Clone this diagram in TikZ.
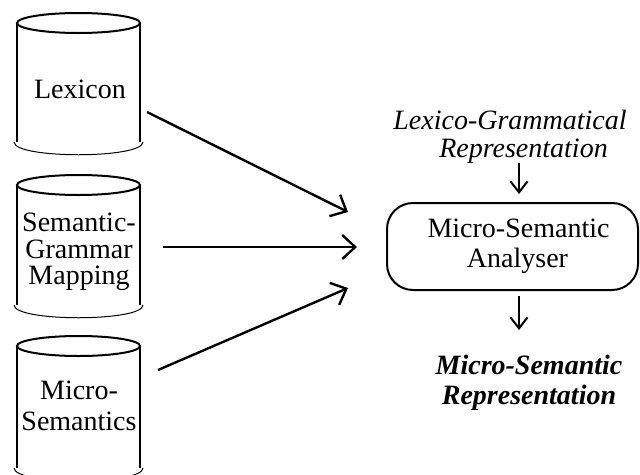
\documentclass[tikz,border=0pt]{standalone}
\usepackage{fontspec}
\setmainfont{Liberation Serif}
\usetikzlibrary{arrows.meta}

\tikzset{
  body/.style={line width=2pt},
  rim/.style={line width=1pt},
  label/.style={align=center, inner sep=0pt, font=\fontsize{28}{30}\selectfont},
  feed/.style={line width=2.4pt, -{Straight Barb[length=13pt, width=24pt, line width=2.4pt]}},
  flow/.style={line width=2pt, -{Straight Barb[length=11pt, width=17pt, line width=2pt]}},
  analyser/.style={draw, line width=2pt, rounded corners=26pt, minimum width=251pt,
                   minimum height=87pt, align=center, inner sep=0pt,
                   font=\fontsize{28}{30}\selectfont}
}

% a store: full top rim, straight sides and a thin lower rim
\newcommand{\store}[3]{% centre x, top rim y, bottom of sides y
  \draw[body] (#1,#2) ellipse [x radius=61.5, y radius=10];
  \draw[body] (#1-61.5,#2) -- (#1-61.5,#3);
  \draw[body] (#1+61.5,#2) -- (#1+61.5,#3);
  \draw[rim] (#1-64.5,#3) .. controls (#1-64.5,#3+17) and (#1+64.5,#3+17) .. (#1+64.5,#3);
}

\begin{document}
\begin{tikzpicture}[x=1pt, y=-1pt]
  \useasboundingbox (0,0) rectangle (640,474);

  % the three stores
  \store{78.5}{23}{142}
  \store{78.5}{185}{305}
  \store{78.5}{346}{468}

  \node[label] (lex) at (80,89) {Lexicon};
  \node[label, font=\fontsize{28}{26.5}\selectfont] (sgm) at (79,252) {Semantic-\\Grammar\\Mapping};
  \node[label, font=\fontsize{28}{31}\selectfont] (msem) at (79,406) {Micro-\\Semantics};

  % the analyser
  \node[analyser] (msa) at (512.5,246.5) {\hspace*{12pt}Micro-Semantic\\\hspace*{10pt}Analyser};

  % input and output representations
  \node[label, font=\fontsize{28}{28}\itshape\selectfont] (lgr) at (510,137) {Lexico-Grammatical\\\hspace*{27pt}Representation};
  \node[label, font=\fontsize{28}{30}\bfseries\itshape\selectfont] (msr) at (529,383) {Micro-Semantic\\Representation};

  % connector end points
  \coordinate (lexout) at (147,112);
  \coordinate (sgmout) at (163,247);
  \coordinate (msemout) at (158,370);
  \coordinate (lexin) at (348,212);
  \coordinate (sgmin) at (357,247);
  \coordinate (msemin) at (348,288);
  \coordinate (topin) at (519,163);
  \coordinate (botout) at (519,330);

  \draw[feed] (lexout) -- (lexin);
  \draw[feed] (sgmout) -- (sgmin);
  \draw[feed] (msemout) -- (msemin);

  \draw[flow, shorten >=8pt] (topin) -- (topin |- msa.north);
  \draw[flow, shorten <=5pt] (botout |- msa.south) -- (botout);
\end{tikzpicture}
\end{document}
